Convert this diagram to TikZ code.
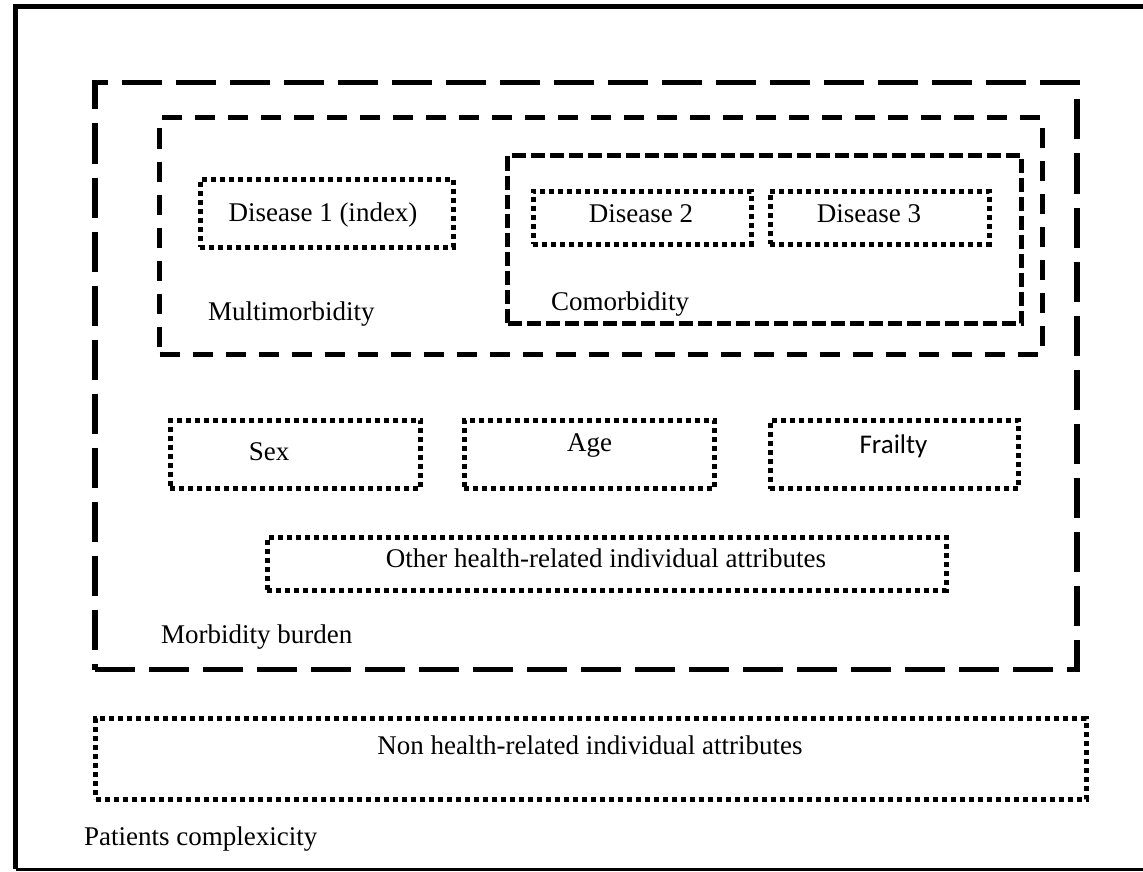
\documentclass[tikz,border=0pt]{standalone}
\usepackage{fontspec}
\setmainfont{Liberation Serif}
\newfontfamily\frailfont{Carlito}
\begin{document}
\begin{tikzpicture}
[x=1pt,y=-1pt,%
  burdenbox/.style={draw,line width=5.5pt,dash pattern=on 40pt off 14pt},%
  multibox/.style={draw,line width=5pt,dash pattern=on 20pt off 13pt},%
  cobox/.style={draw,line width=5pt,dash pattern=on 14pt off 5pt},%
  dotbox/.style={draw,line width=5pt,dash pattern=on 5pt off 4pt},%
  labeltext/.style={font=\fontsize{27}{32}\selectfont,inner sep=0pt}]
\useasboundingbox (0,0) rectangle (1143,872);
\clip (0,0) rectangle (1143,872);
%% outer frame
\coordinate (topright) at (1160,7);
\coordinate (topleft) at (15.5,7);
\coordinate (botleft) at (15.5,869);
\coordinate (botright) at (1160,869);
\draw[line width=5pt] (topright) -- (topleft) -- (botleft);
\draw[line width=3pt] (botleft) -- (botright);
%% boxes
\foreach \boxname/\xa/\ya/\xb/\yb/\boxstyle in {
  burden/95/82.5/1077/669.5/burdenbox, multi/159.5/117.5/1042/354.5/multibox,
  co/507.5/155.5/1021.5/323.5/cobox, dis1/200/179.5/453/247/dotbox,
  dis2/533/191/751/244/dotbox, dis3/770/191/989/244/dotbox,
  sex/170/420/420.5/488.5/dotbox, age/464/420/714/488.5/dotbox,
  frail/770/420/1018/488.5/dotbox, other/267/537.5/946/590/dotbox,
  nonhealth/95.5/718.5/1086/799/dotbox}
{
  \node (\boxname) [\boxstyle,inner sep=0pt,minimum width={(\xb-\xa)*1pt},
    minimum height={(\yb-\ya)*1pt}] at ({(\xa+\xb)/2},{(\ya+\yb)/2}) {};
}
%% texts
\foreach \textname/\x/\y/\where/\words in {
  dis1text/323/221/base/{Disease 1 (index)}, dis2text/641/222/base/{Disease 2},
  dis3text/869/222/base/{Disease 3}, multitext/208/320/base west/{Multimorbidity},
  cotext/551/310/base west/{Comorbidity}, sextext/269/460/base/{Sex},
  agetext/589.5/451/base/{Age}, othertext/606/567/base/{Other health-related individual attributes},
  burdentext/161/643/base west/{Morbidity burden},
  nontext/590/754/base/{Non health-related individual attributes},
  complextext/84/845/base west/{Patients complexicity}}
{
  \node (\textname) [labeltext,anchor=\where] at (\x,\y) {\words};
}
\node (frailtext) [labeltext,font=\frailfont\fontsize{27}{32}\selectfont,anchor=base]
  at (893.5,453) {Frailty};
\end{tikzpicture}
\end{document}
